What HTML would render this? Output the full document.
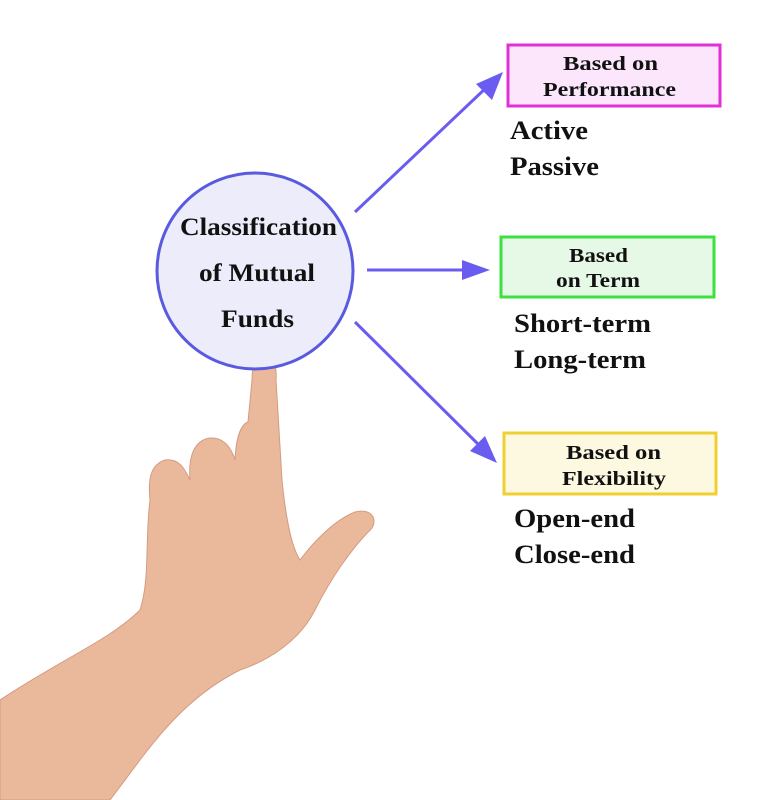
<!DOCTYPE html>
<html><head><style>
body{margin:0;background:#fff;}
svg{display:block}
text{font-family:"Liberation Serif",serif;font-weight:bold;fill:#111}
</style></head><body>
<svg width="770" height="800" viewBox="0 0 770 800">
<!-- hand -->
<g fill="#eab99c" stroke="#d39c80" stroke-width="1">
<path d="M0,700 C60,660 110,640 140,610 C150,580 145,540 150,500 C148,480 150,465 165,460 C180,458 185,470 190,480 C188,455 195,440 210,438 C225,437 232,450 235,460 C236,440 240,425 248,422 L252,380 C252,365 256,357 264,356 C274,356 277,366 276,380 L282,480 C285,510 290,545 300,560 C315,540 335,520 355,512 C370,508 378,518 372,528 C350,550 330,580 315,610 C300,640 270,660 240,670 C200,690 170,720 140,760 L110,800 L0,800 Z"/>
</g>
<!-- circle -->
<circle cx="255" cy="271" r="98" fill="#ececfa" stroke="#5a5ae0" stroke-width="3"/>
<g font-size="25">
<text x="180" y="235" textLength="157" lengthAdjust="spacingAndGlyphs">Classification</text>
<text x="199" y="281" textLength="116" lengthAdjust="spacingAndGlyphs">of Mutual</text>
<text x="221" y="327" textLength="73" lengthAdjust="spacingAndGlyphs">Funds</text>
</g>
<!-- arrows -->
<g stroke="#6a5cf0" stroke-width="3" fill="#6a5cf0">
<line x1="355" y1="212" x2="488" y2="86"/>
<line x1="367" y1="270" x2="470" y2="270"/>
<line x1="355" y1="322" x2="482" y2="448"/>
</g>
<g fill="#6a5cf0">
<polygon points="503,72 492,100 476,84"/>
<polygon points="490,270 462,260 462,280"/>
<polygon points="497,463 470,451 485,436"/>
</g>
<!-- boxes -->
<rect x="508" y="45" width="212" height="61" fill="#fbe6fb" stroke="#e030d8" stroke-width="3"/>
<g font-size="20">
<text x="563" y="70" textLength="95" lengthAdjust="spacingAndGlyphs">Based on</text>
<text x="543" y="96" textLength="133" lengthAdjust="spacingAndGlyphs">Performance</text>
</g>
<rect x="501" y="237" width="213" height="60" fill="#e6f8e6" stroke="#3ee040" stroke-width="3"/>
<g font-size="20">
<text x="569" y="262" textLength="59" lengthAdjust="spacingAndGlyphs">Based</text>
<text x="556" y="287" textLength="84" lengthAdjust="spacingAndGlyphs">on Term</text>
</g>
<rect x="504" y="433" width="212" height="61" fill="#fdf8e0" stroke="#f0d030" stroke-width="3"/>
<g font-size="20">
<text x="566" y="459" textLength="95" lengthAdjust="spacingAndGlyphs">Based on</text>
<text x="562" y="485" textLength="104" lengthAdjust="spacingAndGlyphs">Flexibility</text>
</g>
<!-- lists -->
<g font-size="26">
<text x="510" y="139" textLength="78" lengthAdjust="spacingAndGlyphs">Active</text>
<text x="510" y="175" textLength="89" lengthAdjust="spacingAndGlyphs">Passive</text>
<text x="514" y="332" textLength="137" lengthAdjust="spacingAndGlyphs">Short-term</text>
<text x="514" y="368" textLength="132" lengthAdjust="spacingAndGlyphs">Long-term</text>
<text x="514" y="527" textLength="121" lengthAdjust="spacingAndGlyphs">Open-end</text>
<text x="514" y="563" textLength="121" lengthAdjust="spacingAndGlyphs">Close-end</text>
</g>
</svg>
</body></html>
